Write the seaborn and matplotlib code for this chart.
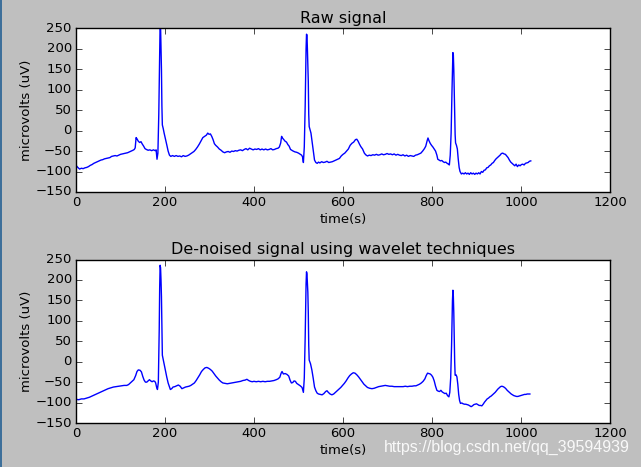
import matplotlib
matplotlib.use("Agg")
import matplotlib.pyplot as plt
import seaborn as sns
import pandas as pd
from matplotlib.patches import Rectangle

# ---------------- data ----------------
raw_t = [0, 4, 8, 12, 16, 20, 24, 28, 32, 36, 40, 44, 48, 52, 56, 60, 64, 68, 72, 76,
         80, 84, 88, 92, 96, 100, 104, 108, 112, 116, 120, 124, 128, 131, 133, 135, 137,
         140, 143, 146, 149, 152, 155, 158, 162, 166, 170, 174, 178, 180, 182, 184, 186,
         188, 189, 190, 191, 192, 193, 194, 196, 198, 201, 204, 207, 210, 213, 217, 221,
         225, 229, 233, 237, 241, 245, 249, 253, 257, 261, 265, 269, 273, 277, 281, 285,
         289, 293, 296, 299, 302, 305, 308, 311, 314, 318, 322, 326, 330, 334, 338, 342,
         346, 350, 354, 358, 362, 366, 370, 374, 378, 382, 386, 390, 394, 398, 402, 406,
         410, 414, 418, 422, 426, 430, 434, 438, 442, 446, 450, 454, 457, 460, 462, 464,
         467, 470, 473, 476, 479, 482, 485, 488, 492, 496, 500, 504, 507, 509, 511, 513,
         515, 517, 518, 519, 520, 522, 523, 524, 526, 528, 531, 534, 536, 539, 542, 545,
         548, 552, 556, 560, 564, 568, 572, 576, 580, 584, 588, 592, 596, 600, 604, 608,
         612, 616, 620, 624, 628, 631, 634, 637, 640, 644, 648, 651, 655, 659, 663, 667,
         671, 675, 679, 683, 687, 691, 695, 699, 703, 707, 711, 715, 719, 723, 727, 731,
         735, 739, 743, 747, 751, 755, 759, 763, 767, 771, 775, 779, 783, 786, 789, 791,
         793, 796, 799, 802, 805, 808, 811, 813, 816, 819, 822, 825, 828, 831, 834, 837,
         839, 841, 843, 845, 847, 848, 849, 850, 851, 852, 853, 855, 857, 859, 861, 863,
         866, 869, 872, 875, 878, 881, 884, 887, 890, 893, 896, 899, 902, 905, 908, 911,
         914, 917, 920, 923, 926, 929, 932, 935, 938, 941, 944, 947, 950, 953, 956, 959,
         962, 965, 968, 971, 974, 977, 980, 983, 986, 989, 992, 995, 998, 1001, 1004, 1007,
         1010, 1013, 1016, 1019, 1022]
raw_uv = [-85, -90, -94, -92, -93, -91, -90, -88, -85, -83, -80, -78, -76, -74, -72, -71,
          -69, -68, -67, -66, -63, -62, -61, -62, -60, -58, -57, -56, -55, -54, -52, -50,
          -48, -46, -42, -17, -20, -26, -29, -27, -33, -38, -44, -46, -48, -47, -49, -47,
          -49, -47, -70, -55, 40, 200, 262, 255, 200, 150, 60, 14, 5, -6, -20, -35, -50,
          -60, -63, -61, -63, -61, -63, -62, -64, -61, -63, -62, -60, -57, -54, -51, -46,
          -40, -33, -25, -17, -14, -11, -6, -9, -8, -14, -22, -32, -36, -40, -45, -48,
          -52, -54, -52, -51, -53, -50, -51, -49, -50, -48, -47, -49, -46, -44, -47, -43,
          -45, -47, -45, -46, -44, -47, -45, -47, -45, -47, -46, -44, -47, -46, -44, -43,
          -40, -30, -14, -18, -22, -26, -28, -34, -38, -46, -48, -50, -52, -53, -55, -58,
          -60, -64, -78, -40, 60, 200, 236, 234, 200, 120, 40, 10, 2, -6, -30, -55, -72,
          -78, -80, -77, -79, -76, -78, -77, -75, -78, -77, -76, -74, -72, -70, -68, -62,
          -58, -55, -50, -45, -36, -31, -28, -22, -21, -26, -33, -39, -45, -55, -59, -62,
          -60, -61, -59, -60, -58, -60, -59, -57, -59, -58, -56, -58, -57, -59, -57, -60,
          -58, -60, -61, -59, -62, -60, -63, -61, -62, -63, -60, -59, -57, -55, -50, -44,
          -38, -25, -18, -24, -31, -36, -40, -45, -50, -60, -70, -72, -74, -73, -76, -78,
          -77, -80, -82, -84, -60, -6, 100, 191, 185, 150, 100, 60, -10, -30, -36, -45,
          -70, -90, -100, -106, -104, -106, -103, -106, -104, -107, -103, -106, -104, -107,
          -104, -106, -103, -106, -100, -102, -97, -96, -91, -90, -86, -84, -80, -78, -73,
          -69, -66, -63, -60, -56, -55, -57, -58, -62, -66, -72, -77, -80, -83, -86, -82,
          -88, -84, -86, -83, -82, -84, -80, -79, -78, -75, -74]

den_t = [0, 6, 12, 18, 24, 30, 36, 42, 48, 54, 60, 66, 72, 78, 84, 90, 96, 102, 108, 114,
         118, 122, 126, 130, 134, 137, 140, 144, 147, 150, 153, 156, 159, 162, 165, 168,
         171, 174, 177, 179, 181, 183, 185, 187, 188, 189, 190, 191, 192, 193, 194, 196,
         198, 201, 204, 207, 210, 212, 215, 218, 222, 226, 230, 234, 238, 242, 246, 250,
         254, 258, 262, 266, 270, 274, 278, 282, 286, 290, 294, 298, 302, 306, 310, 314,
         318, 322, 326, 330, 335, 340, 345, 350, 355, 360, 365, 370, 375, 380, 384, 388,
         392, 396, 400, 405, 410, 415, 420, 425, 430, 435, 440, 445, 450, 454, 458, 461,
         463, 466, 470, 474, 478, 481, 484, 487, 490, 493, 496, 500, 504, 508, 511, 513,
         515, 517, 518, 519, 521, 522, 523, 524, 527, 530, 533, 536, 539, 542, 545, 549,
         553, 557, 561, 564, 567, 571, 575, 579, 583, 587, 591, 595, 599, 603, 607, 611,
         615, 619, 623, 627, 631, 635, 639, 643, 647, 651, 655, 660, 665, 670, 675, 680,
         685, 690, 695, 700, 705, 710, 715, 720, 725, 730, 735, 740, 745, 750, 755, 760,
         764, 768, 772, 776, 780, 784, 787, 790, 793, 796, 799, 802, 805, 808, 811, 814,
         817, 820, 823, 826, 829, 832, 835, 838, 840, 842, 844, 846, 847, 848, 849, 850,
         851, 852, 854, 856, 858, 860, 862, 864, 867, 870, 873, 876, 879, 882, 885, 888,
         891, 894, 897, 900, 903, 906, 909, 912, 915, 918, 921, 924, 927, 930, 933, 936,
         939, 942, 945, 948, 951, 954, 957, 960, 963, 966, 969, 972, 975, 978, 981, 984,
         987, 990, 993, 996, 999, 1002, 1005, 1008, 1011, 1014, 1017, 1020]
den_uv = [-92, -93, -91, -91, -89, -87, -84, -81, -78, -75, -72, -69, -66, -64, -62, -61,
          -60, -59, -58, -58, -56, -52, -48, -44, -34, -24, -20, -21, -25, -36, -45, -50,
          -50, -47, -44, -47, -49, -47, -48, -52, -62, -68, -50, 80, 180, 236, 230, 200,
          159, 80, 16, 5, -6, -22, -38, -52, -62, -68, -66, -62, -61, -59, -57, -60, -66,
          -64, -62, -61, -60, -58, -55, -52, -46, -39, -32, -24, -19, -15, -14, -16, -19,
          -23, -29, -35, -40, -45, -49, -52, -53, -54, -53, -52, -51, -50, -49, -48, -46,
          -45, -43, -46, -48, -49, -48, -49, -48, -49, -48, -49, -48, -48, -47, -46, -44,
          -42, -38, -28, -24, -30, -29, -31, -35, -45, -52, -51, -47, -48, -53, -56, -59,
          -63, -75, -40, 60, 190, 220, 215, 170, 120, 40, 4, -5, -20, -40, -62, -71, -77,
          -79, -80, -81, -78, -73, -71, -75, -79, -81, -79, -75, -71, -67, -63, -58, -53,
          -47, -40, -34, -30, -27, -28, -32, -37, -43, -49, -55, -59, -63, -65, -66, -65,
          -63, -61, -60, -59, -58, -59, -60, -60, -61, -61, -61, -61, -61, -60, -61, -60,
          -60, -59, -59, -57, -55, -52, -48, -42, -34, -28, -29, -30, -33, -38, -47, -60,
          -70, -72, -73, -70, -74, -76, -78, -77, -83, -86, -75, -40, 40, 150, 175, 160,
          120, 60, 0, -33, -32, -37, -55, -80, -95, -102, -101, -103, -104, -104, -105,
          -106, -108, -110, -108, -105, -104, -103, -105, -107, -107, -108, -104, -99, -95,
          -91, -89, -86, -84, -81, -78, -75, -71, -67, -64, -61, -60, -61, -63, -66, -70,
          -73, -76, -79, -81, -83, -84, -85, -85, -84, -83, -82, -81, -80, -80, -79, -79,
          -79]

titles = ["Raw signal", "De-noised signal using wavelet techniques"]
x_label = "time(s)"
y_label = "microvolts (uV)"
x_ticks = [0, 200, 400, 600, 800, 1000, 1200]
y_ticks = [-150, -100, -50, 0, 50, 100, 150, 200, 250]

# ---------------- figure ----------------
plt.style.use("classic")
plt.rcParams["font.family"] = ["DejaVu Sans"]

fig = plt.figure(figsize=(6.41, 4.67), dpi=100)
fig.patch.set_facecolor("#bfbfbf")

ax1 = fig.add_axes([0.1186, 0.589, 0.8330, 0.350])
ax2 = fig.add_axes([0.1186, 0.0942, 0.8330, 0.350])

frames = [pd.DataFrame({"t": raw_t, "uv": raw_uv}),
          pd.DataFrame({"t": den_t, "uv": den_uv})]

for ax, df, title in zip([ax1, ax2], frames, titles):
    sns.lineplot(data=df, x="t", y="uv", ax=ax, color="b", linewidth=1.0,
                 estimator=None, sort=False)
    ax.set_xlim(0, 1200)
    ax.set_ylim(-150, 250)
    ax.set_xticks(x_ticks)
    ax.set_yticks(y_ticks)
    ax.tick_params(labelsize=9.5, direction="in", top=True, right=True,
                   length=4, pad=3)
    ax.set_xlabel(x_label, fontsize=9.5, labelpad=3)
    ax.set_ylabel(y_label, fontsize=9.5, labelpad=2)
    ax.set_title(title, fontsize=11.5, pad=4)
    ax.set_facecolor("white")

# screenshot left edge line
fig.patches.append(Rectangle((0, 0), 2.0 / 641, 1, transform=fig.transFigure,
                             facecolor="#3d6f9a", edgecolor="none", zorder=10))

# watermark
fig.text(0.983, 0.042, "https://blog.csdn.net/qq_39594939", ha="right", va="center",
         fontsize=11.5, color="white", alpha=0.9, family="Liberation Sans")

fig.savefig("out.png", dpi=100, facecolor=fig.get_facecolor())
